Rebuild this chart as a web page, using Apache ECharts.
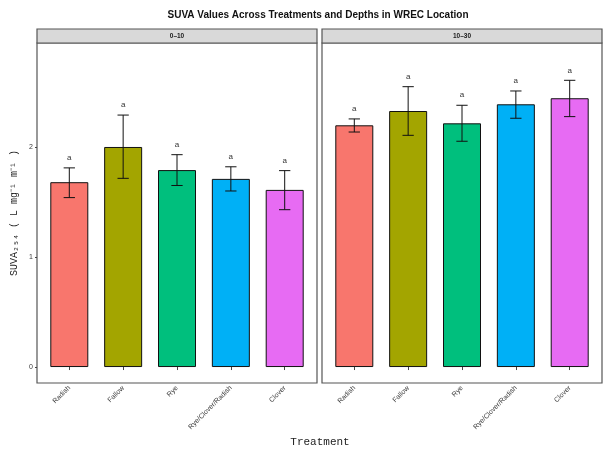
<!DOCTYPE html>
<html><head><meta charset="utf-8">
<script src="https://cdn.jsdelivr.net/npm/echarts@6/dist/echarts.min.js"></script>
<style>html,body{margin:0;padding:0;background:#fff}#c{width:605px;height:454px}</style>
</head><body><div id="c"></div>
<script>
const categories = ['Radish','Fallow','Rye','Rye/Clover/Radish','Clover'];
const colors = ['#F8766D','#A3A500','#00BF7D','#00B0F6','#E76BF3'];
const depths = ['0\u201310','10\u201330'];
const mean010 = [1.68, 2.00, 1.79, 1.71, 1.61];
const lo010   = [1.54, 1.715, 1.65, 1.60, 1.43];
const hi010   = [1.81, 2.29, 1.93, 1.82, 1.785];
const mean1030 = [2.197, 2.327, 2.215, 2.388, 2.443];
const lo1030   = [2.136, 2.106, 2.052, 2.261, 2.276];
const hi1030   = [2.255, 2.548, 2.379, 2.509, 2.606];
const letters010 = ['a','a','a','a','a'];
const letters1030 = ['a','a','a','a','a'];
const yTicks = [0, 1, 2];

const chart = echarts.init(document.getElementById('c'), null, {renderer:'canvas'});
const panels = [
  {left:37, mean:mean010, lo:lo010, hi:hi010, letters:letters010},
  {left:322, mean:mean1030, lo:lo1030, hi:hi1030, letters:letters1030}
];
const grids = [], xAxes = [], yAxes = [], series = [], graphics = [];
panels.forEach((p, i) => {
  grids.push({left:p.left, top:43, width:280, height:340, show:true, borderColor:'#555', borderWidth:1.2,
    backgroundColor:'#fff', containLabel:false, outerBoundsMode:'none'});
  xAxes.push({type:'value', gridIndex:i, min:0.4, max:5.6,
    axisLine:{show:false}, splitLine:{show:false},
    axisTick:{show:true, customValues:[1,2,3,4,5], length:3, lineStyle:{color:'#444'}},
    axisLabel:{show:true, customValues:[1,2,3,4,5], rotate:45, fontSize:7, color:'#3a3a3a', margin:4,
      fontFamily:'Liberation Sans, Arial', formatter:v => categories[Math.round(v)-1] || ''}});
  yAxes.push({type:'value', gridIndex:i, min:-0.145, max:2.945,
    axisLine:{show:false}, splitLine:{show:false},
    axisTick:{show:i===0, customValues:yTicks, length:2, lineStyle:{color:'#444'}},
    axisLabel:{show:i===0, customValues:yTicks, fontSize:7, color:'#3a3a3a', margin:4, fontFamily:'Liberation Sans, Arial'},
    name: i===0 ? 'SUVA\u2082\u2085\u2084 ( L mg\u207B\u00B9 m\u207B\u00B9 )' : '',
    nameLocation:'middle', nameGap:18, nameRotate:90,
    nameTextStyle:{fontFamily:'Liberation Mono', fontSize:10, color:'#222'}});
  series.push({type:'bar', xAxisIndex:i, yAxisIndex:i, barWidth:38, z:2,
    data:p.mean.map((v,k)=>({value:[k+1, v], itemStyle:{color:colors[k]}})),
    itemStyle:{borderColor:'#111', borderWidth:1}, silent:true, animation:false});
  series.push({type:'custom', xAxisIndex:i, yAxisIndex:i, animation:false, silent:true, z:5,
    data:p.mean.map((v,k)=>[k+1, p.lo[k], p.hi[k]]),
    renderItem:(params, api) => {
      const x = api.value(0);
      const top = api.coord([x, api.value(2)]);
      const bot = api.coord([x, api.value(1)]);
      const hw = api.size([1,0])[0]*0.105;
      const k = params.dataIndex;
      const st = {stroke:'#111', lineWidth:1};
      return {type:'group', children:[
        {type:'line', shape:{x1:top[0], y1:top[1], x2:bot[0], y2:bot[1]}, style:st},
        {type:'line', shape:{x1:top[0]-hw, y1:top[1], x2:top[0]+hw, y2:top[1]}, style:st},
        {type:'line', shape:{x1:bot[0]-hw, y1:bot[1], x2:bot[0]+hw, y2:bot[1]}, style:st},
        {type:'text', style:{x:top[0], y:top[1]-10, text:p.letters[k], fill:'#333', fontSize:8,
          fontFamily:'Liberation Sans, Arial', align:'center', verticalAlign:'middle'}}
      ]};
    }});
  graphics.push({type:'rect', shape:{x:p.left, y:29, width:280, height:14},
    style:{fill:'#D9D9D9', stroke:'#555', lineWidth:1.2}});
  graphics.push({type:'text', style:{x:p.left+140, y:36, text:depths[i], fill:'#1a1a1a', fontSize:6.5,
    fontWeight:'bold', fontFamily:'Liberation Sans, Arial', align:'center', verticalAlign:'middle'}});
});
graphics.push({type:'text', style:{x:320, y:442, text:'Treatment', fill:'#222', fontSize:11,
  fontFamily:'Liberation Mono', align:'center', verticalAlign:'middle'}});
chart.setOption({
  animation:false,
  title:{text:'SUVA Values Across Treatments and Depths in WREC Location', left:313, top:5, textAlign:'center',
    textStyle:{fontSize:10, fontWeight:'bold', color:'#111', fontFamily:'Liberation Sans, Arial'}},
  grid:grids, xAxis:xAxes, yAxis:yAxes, series:series, graphic:graphics
});
</script></body></html>
